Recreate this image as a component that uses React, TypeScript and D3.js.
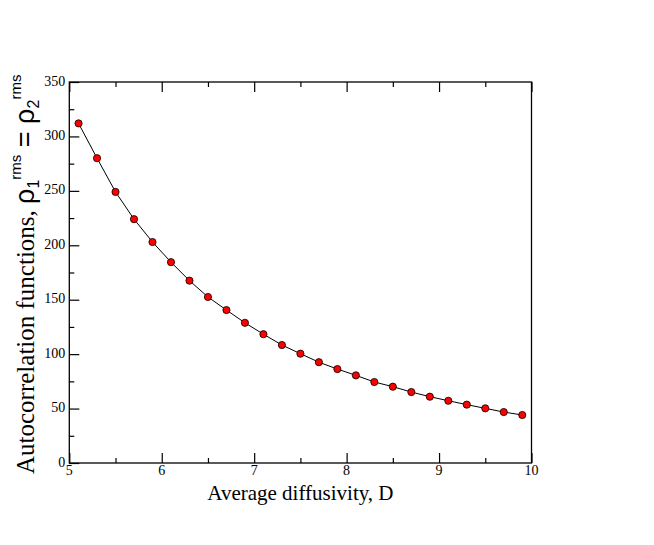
import React, { useEffect, useRef } from 'react';
import * as d3 from 'd3';

// diffusivity values (x) and autocorrelation values (y)
const diffusivity = [
  5.1, 5.3, 5.5, 5.7, 5.9, 6.1, 6.3, 6.5, 6.7, 6.9, 7.1, 7.3, 7.5, 7.7, 7.9,
  8.1, 8.3, 8.5, 8.7, 8.9, 9.1, 9.3, 9.5, 9.7, 9.9,
];
const autocorrelation = [
  312, 280, 249, 224, 203, 184.5, 167.5, 152.5, 140.5, 128.8, 118.3, 108.4,
  100.4, 92.6, 86.3, 80.5, 74.4, 70.1, 65.2, 60.9, 57.2, 53.6, 50.2, 46.8, 44.1,
];
const xTicks = [5, 6, 7, 8, 9, 10];
const yTicks = [0, 50, 100, 150, 200, 250, 300, 350];

const Chart = () => {
  const svgRef = useRef<SVGSVGElement>(null);

  useEffect(() => {
    const svg = d3.select(svgRef.current);
    const width = 654;
    const height = 545;
    const margin = { top: 82, right: 122.5, bottom: 82, left: 69.3 };
    const serif = '"Liberation Serif", "Times New Roman", serif';
    const sans = '"Liberation Sans", Arial, sans-serif';

    const x = d3
      .scaleLinear()
      .domain([5, 10])
      .range([margin.left, width - margin.right]);
    const y = d3
      .scaleLinear()
      .domain([0, 350])
      .range([height - margin.bottom, margin.top]);

    const points = diffusivity.map((d, i) => ({ d, v: autocorrelation[i] }));

    // frame
    svg
      .append('rect')
      .attr('x', x(5))
      .attr('y', y(350))
      .attr('width', x(10) - x(5))
      .attr('height', y(0) - y(350))
      .attr('fill', 'none')
      .attr('stroke', '#000')
      .attr('stroke-width', 1.3);

    // bottom axis, ticks pointing inward
    const xMinor = d3.range(5.5, 10, 1);
    const bottom = svg.append('g').attr('transform', `translate(0,${y(0)})`);
    bottom
      .call(d3.axisTop(x).tickValues(xTicks).tickSize(10).tickFormat(() => ''))
      .call((g) => g.select('.domain').remove());
    bottom
      .append('g')
      .call(d3.axisTop(x).tickValues(xMinor).tickSize(5).tickFormat(() => ''))
      .call((g) => g.select('.domain').remove());
    svg
      .append('g')
      .selectAll('text')
      .data(xTicks)
      .enter()
      .append('text')
      .attr('x', (d) => x(d))
      .attr('y', y(0) + 12)
      .attr('text-anchor', 'middle')
      .attr('font-family', serif)
      .attr('font-size', 14)
      .text((d) => d);

    // top axis, ticks only
    const top = svg.append('g').attr('transform', `translate(0,${y(350)})`);
    top
      .call(d3.axisBottom(x).tickValues(xTicks).tickSize(10).tickFormat(() => ''))
      .call((g) => g.select('.domain').remove());
    top
      .append('g')
      .call(d3.axisBottom(x).tickValues(xMinor).tickSize(5).tickFormat(() => ''))
      .call((g) => g.select('.domain').remove());

    // left axis
    const yMinor = d3.range(25, 350, 50);
    const left = svg.append('g').attr('transform', `translate(${x(5)},0)`);
    left
      .call(d3.axisRight(y).tickValues(yTicks).tickSize(10).tickFormat(() => ''))
      .call((g) => g.select('.domain').remove());
    left
      .append('g')
      .call(d3.axisRight(y).tickValues(yMinor).tickSize(5).tickFormat(() => ''))
      .call((g) => g.select('.domain').remove());
    svg
      .append('g')
      .selectAll('text')
      .data(yTicks)
      .enter()
      .append('text')
      .attr('x', x(5) - 4)
      .attr('y', (d) => y(d) - 1)
      .attr('text-anchor', 'end')
      .attr('dominant-baseline', 'central')
      .attr('font-family', serif)
      .attr('font-size', 14)
      .text((d) => d);

    svg.selectAll('.tick line').attr('stroke', '#000').attr('stroke-width', 1.2);

    // the curve
    const line = d3
      .line<{ d: number; v: number }>()
      .x((p) => x(p.d))
      .y((p) => y(p.v));
    svg
      .append('path')
      .datum(points)
      .attr('d', line)
      .attr('fill', 'none')
      .attr('stroke', '#000')
      .attr('stroke-width', 1);

    svg
      .append('g')
      .selectAll('circle')
      .data(points)
      .enter()
      .append('circle')
      .attr('cx', (p) => x(p.d))
      .attr('cy', (p) => y(p.v))
      .attr('r', 3.6)
      .attr('fill', '#ff0000')
      .attr('stroke', '#000')
      .attr('stroke-width', 0.8);

    // x title
    svg
      .append('text')
      .attr('x', (x(5) + x(10)) / 2)
      .attr('y', 500)
      .attr('text-anchor', 'middle')
      .attr('font-family', serif)
      .attr('font-size', 21)
      .text('Average diffusivity, D');

    // y title with rho sub/superscripts
    const yt = svg
      .append('text')
      .attr('transform', 'translate(34,474) rotate(-90)')
      .attr('font-family', serif)
      .attr('font-size', 25);
    yt.append('tspan').text('Autocorrelation functions, ');
    yt.append('tspan').attr('font-family', sans).attr('font-size', 27).text('ρ');
    yt.append('tspan').attr('font-family', sans).attr('font-size', 16).attr('dy', 5).text('1');
    yt.append('tspan').attr('font-family', sans).attr('font-size', 15).attr('dy', -18).text('rms');
    yt.append('tspan').attr('font-family', sans).attr('font-size', 27).attr('dy', 13).text(' = ρ');
    yt.append('tspan').attr('font-family', sans).attr('font-size', 16).attr('dy', 5).text('2');
    yt.append('tspan').attr('font-family', sans).attr('font-size', 15).attr('dy', -18).text('rms');

    return () => {
      svg.selectAll('*').remove();
    };
  }, []);

  return <svg ref={svgRef} width={654} height={545} style={{ display: 'block' }}></svg>;
};

const App = () => {
  useEffect(() => {
    document.body.style.margin = '0';
  }, []);
  return <Chart />;
};

export default App;
